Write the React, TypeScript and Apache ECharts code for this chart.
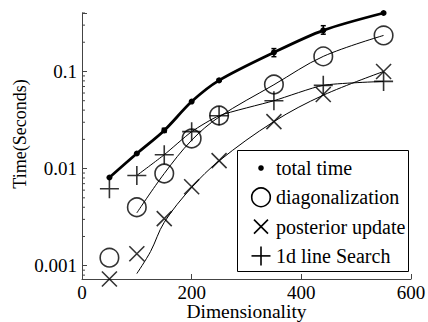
import React, { useEffect, useRef } from "react";
import * as echarts from "echarts";

// ---- data ----
const dims = [50, 100, 150, 200, 250, 350, 440, 550];
const totalTime = [0.0081, 0.0143, 0.0247, 0.049, 0.081, 0.157, 0.265, 0.4];
const totalErrLow = [0.0081, 0.0143, 0.0236, 0.049, 0.079, 0.142, 0.242, 0.4];
const totalErrHigh = [0.0081, 0.0143, 0.026, 0.049, 0.083, 0.172, 0.296, 0.4];
const diagonalization = [0.00121, 0.004, 0.0089, 0.0204, 0.0352, 0.0734, 0.143, 0.235];
const posteriorUpdate = [0.00073, 0.00133, 0.00305, 0.0065, 0.0121, 0.0305, 0.058, 0.1];
const lineSearch = [0.0062, 0.0085, 0.0139, 0.024, 0.035, 0.05, 0.072, 0.079];

const diagFitDims = [100, 150, 200, 250, 350, 440, 550];
const diagFit = [0.0035, 0.0089, 0.0196, 0.034, 0.073, 0.143, 0.235];
const postFitDims = [100, 125, 150, 200, 250, 350, 440, 550];
const postFit = [0.00083, 0.0014, 0.0028, 0.0064, 0.012, 0.0305, 0.057, 0.1];
const searchLineDims = [100, 150, 200, 250, 350, 440, 550];
const searchLine = [0.0085, 0.0139, 0.024, 0.035, 0.05, 0.072, 0.079];

const xTicks = [0, 200, 400, 600];
const yMajorTicks = [0.001, 0.01, 0.1];
const yMinorTicks = [
  0.0008, 0.0009, 0.002, 0.003, 0.004, 0.005, 0.006, 0.007, 0.008, 0.009,
  0.02, 0.03, 0.04, 0.05, 0.06, 0.07, 0.08, 0.09, 0.2, 0.3, 0.4,
];
const yMin = 0.00073;
const yMax = 0.4;
const legendLabels = ["total time", "diagonalization", "posterior update", "1d line Search"];
const xName = "Dimensionality";
const yName = "Time(Seconds)";

const FONT = "Liberation Serif, DejaVu Serif, serif";
const AX = "#444";

const crossPath = "path://M0,0L10,10M10,0L0,10";
const plusPath = "path://M5,0L5,10M0,5L10,5";

export default function App() {
  const ref = useRef<HTMLDivElement>(null);
  useEffect(() => {
    if (!ref.current) return;
    const chart = echarts.init(ref.current, null, { renderer: "svg" });
    const pair = (xs: number[], ys: number[]) => xs.map((x, i) => [x, ys[i]]);
    const openSym = { color: "transparent", borderColor: "#000", borderWidth: 1.6 };

    const lx = 261;
    const ly0 = 168;
    const lgap = 29.3;
    const legendChildren: any[] = [
      { type: "rect", shape: { x: 237.5, y: 150.5, width: 171, height: 121 }, style: { fill: "#fff", stroke: "#000", lineWidth: 1 } },
    ];
    legendLabels.forEach((t, i) => {
      legendChildren.push({
        type: "text",
        x: 276,
        y: ly0 + i * lgap,
        style: { text: t, fontSize: 20, fontFamily: FONT, fill: "#000", align: "left", verticalAlign: "middle" },
      });
    });
    legendChildren.push({ type: "circle", shape: { cx: lx, cy: ly0, r: 2.8 }, style: { fill: "#000" } });
    legendChildren.push({ type: "circle", shape: { cx: lx, cy: ly0 + lgap, r: 9.3 }, style: { fill: "none", stroke: "#000", lineWidth: 1.6 } });
    const cy2 = ly0 + 2 * lgap;
    legendChildren.push({ type: "line", shape: { x1: lx - 7, y1: cy2 - 7, x2: lx + 7, y2: cy2 + 7 }, style: { stroke: "#000", lineWidth: 1.6 } });
    legendChildren.push({ type: "line", shape: { x1: lx + 7, y1: cy2 - 7, x2: lx - 7, y2: cy2 + 7 }, style: { stroke: "#000", lineWidth: 1.6 } });
    const cy3 = ly0 + 3 * lgap;
    legendChildren.push({ type: "line", shape: { x1: lx - 9.5, y1: cy3, x2: lx + 9.5, y2: cy3 }, style: { stroke: "#000", lineWidth: 1.6 } });
    legendChildren.push({ type: "line", shape: { x1: lx, y1: cy3 - 9.5, x2: lx, y2: cy3 + 9.5 }, style: { stroke: "#000", lineWidth: 1.6 } });

    chart.setOption({
      animation: false,
      backgroundColor: "#fff",
      textStyle: { fontFamily: FONT },
      grid: { left: 82, right: 17, top: 13, bottom: 43, outerBoundsMode: "none", containLabel: false },
      xAxis: {
        type: "value",
        min: xTicks[0],
        max: xTicks[xTicks.length - 1],
        interval: xTicks[1] - xTicks[0],
        name: xName,
        nameLocation: "middle",
        nameGap: 22,
        nameMoveOverlap: false,
        nameTextStyle: { fontSize: 19.5, color: "#000", fontFamily: FONT },
        axisLine: { onZero: false, lineStyle: { color: AX, width: 1 } },
        axisTick: { inside: true, length: 5, lineStyle: { color: AX } },
        axisLabel: { fontSize: 19, color: "#000", margin: 4, fontFamily: FONT },
        splitLine: { show: false },
      },
      yAxis: {
        type: "log",
        logBase: 10,
        min: yMin,
        max: yMax,
        axisLine: { show: true, lineStyle: { color: AX, width: 1 } },
        axisTick: { show: true, inside: true, length: 5, lineStyle: { color: AX } },
        axisLabel: {
          fontSize: 19,
          color: "#000",
          margin: 5,
          fontFamily: FONT,
          formatter: (v: number) => {
            const t = yMajorTicks.find((m) => Math.abs(v / m - 1) < 1e-6);
            return t === undefined ? "" : String(t);
          },
        },
        splitLine: { show: false },
        minorTick: { show: false },
      },
      graphic: [
        {
          type: "text",
          x: 20,
          y: 134,
          rotation: Math.PI / 2,
          style: { text: yName, fontSize: 18, fontFamily: FONT, fill: "#000", align: "center", verticalAlign: "middle" },
        },
        { type: "group", z: 100, children: legendChildren },
      ],
      series: [
        {
          type: "custom",
          name: "minorTicks",
          silent: true,
          clip: false,
          data: yMinorTicks.map((v) => [0, v]),
          renderItem: (params: any, api: any) => {
            const p = api.coord([api.value(0), api.value(1)]);
            return { type: "line", shape: { x1: p[0], y1: p[1], x2: p[0] + 3, y2: p[1] }, style: { stroke: AX, lineWidth: 1 } };
          },
        },
        {
          type: "line",
          name: "diagFit",
          data: pair(diagFitDims, diagFit),
          smooth: 0.35,
          showSymbol: false,
          clip: false,
          lineStyle: { color: "#000", width: 1 },
          z: 2,
        },
        {
          type: "line",
          name: "postFit",
          data: pair(postFitDims, postFit),
          smooth: 0.35,
          showSymbol: false,
          clip: false,
          lineStyle: { color: "#000", width: 1 },
          z: 2,
        },
        {
          type: "line",
          name: "searchLine",
          data: pair(searchLineDims, searchLine),
          smooth: 0.2,
          showSymbol: false,
          clip: false,
          lineStyle: { color: "#000", width: 1 },
          z: 2,
        },
        {
          type: "custom",
          name: "totalErr",
          silent: true,
          clip: false,
          data: dims.map((d, i) => [d, totalErrLow[i], totalErrHigh[i]]),
          renderItem: (params: any, api: any) => {
            const lo = api.value(1);
            const hi = api.value(2);
            if (hi <= lo) return null;
            const a = api.coord([api.value(0), lo]);
            const b = api.coord([api.value(0), hi]);
            const st = { stroke: "#000", lineWidth: 1.5 };
            return {
              type: "group",
              children: [
                { type: "line", shape: { x1: a[0], y1: a[1], x2: b[0], y2: b[1] }, style: st },
                { type: "line", shape: { x1: a[0] - 2.5, y1: a[1], x2: a[0] + 2.5, y2: a[1] }, style: st },
                { type: "line", shape: { x1: b[0] - 2.5, y1: b[1], x2: b[0] + 2.5, y2: b[1] }, style: st },
              ],
            };
          },
          z: 3,
        },
        {
          type: "line",
          name: legendLabels[0],
          data: pair(dims, totalTime),
          smooth: 0.3,
          symbol: "circle",
          symbolSize: 6,
          showSymbol: true,
          clip: false,
          lineStyle: { color: "#000", width: 2.8 },
          itemStyle: { color: "#000" },
          z: 4,
        },
        {
          type: "scatter",
          name: legendLabels[1],
          data: pair(dims, diagonalization),
          symbol: "circle",
          symbolSize: 18.5,
          clip: false,
          itemStyle: openSym,
          z: 5,
        },
        {
          type: "scatter",
          name: legendLabels[2],
          data: pair(dims, posteriorUpdate),
          symbol: crossPath,
          symbolSize: 15,
          clip: false,
          itemStyle: openSym,
          z: 5,
        },
        {
          type: "scatter",
          name: legendLabels[3],
          data: pair(dims, lineSearch),
          symbol: plusPath,
          symbolSize: 19,
          clip: false,
          itemStyle: openSym,
          z: 5,
        },
      ],
    });
    return () => chart.dispose();
  }, []);
  return <div ref={ref} style={{ position: "absolute", left: 0, top: 0, width: 428, height: 322 }} />;
}
